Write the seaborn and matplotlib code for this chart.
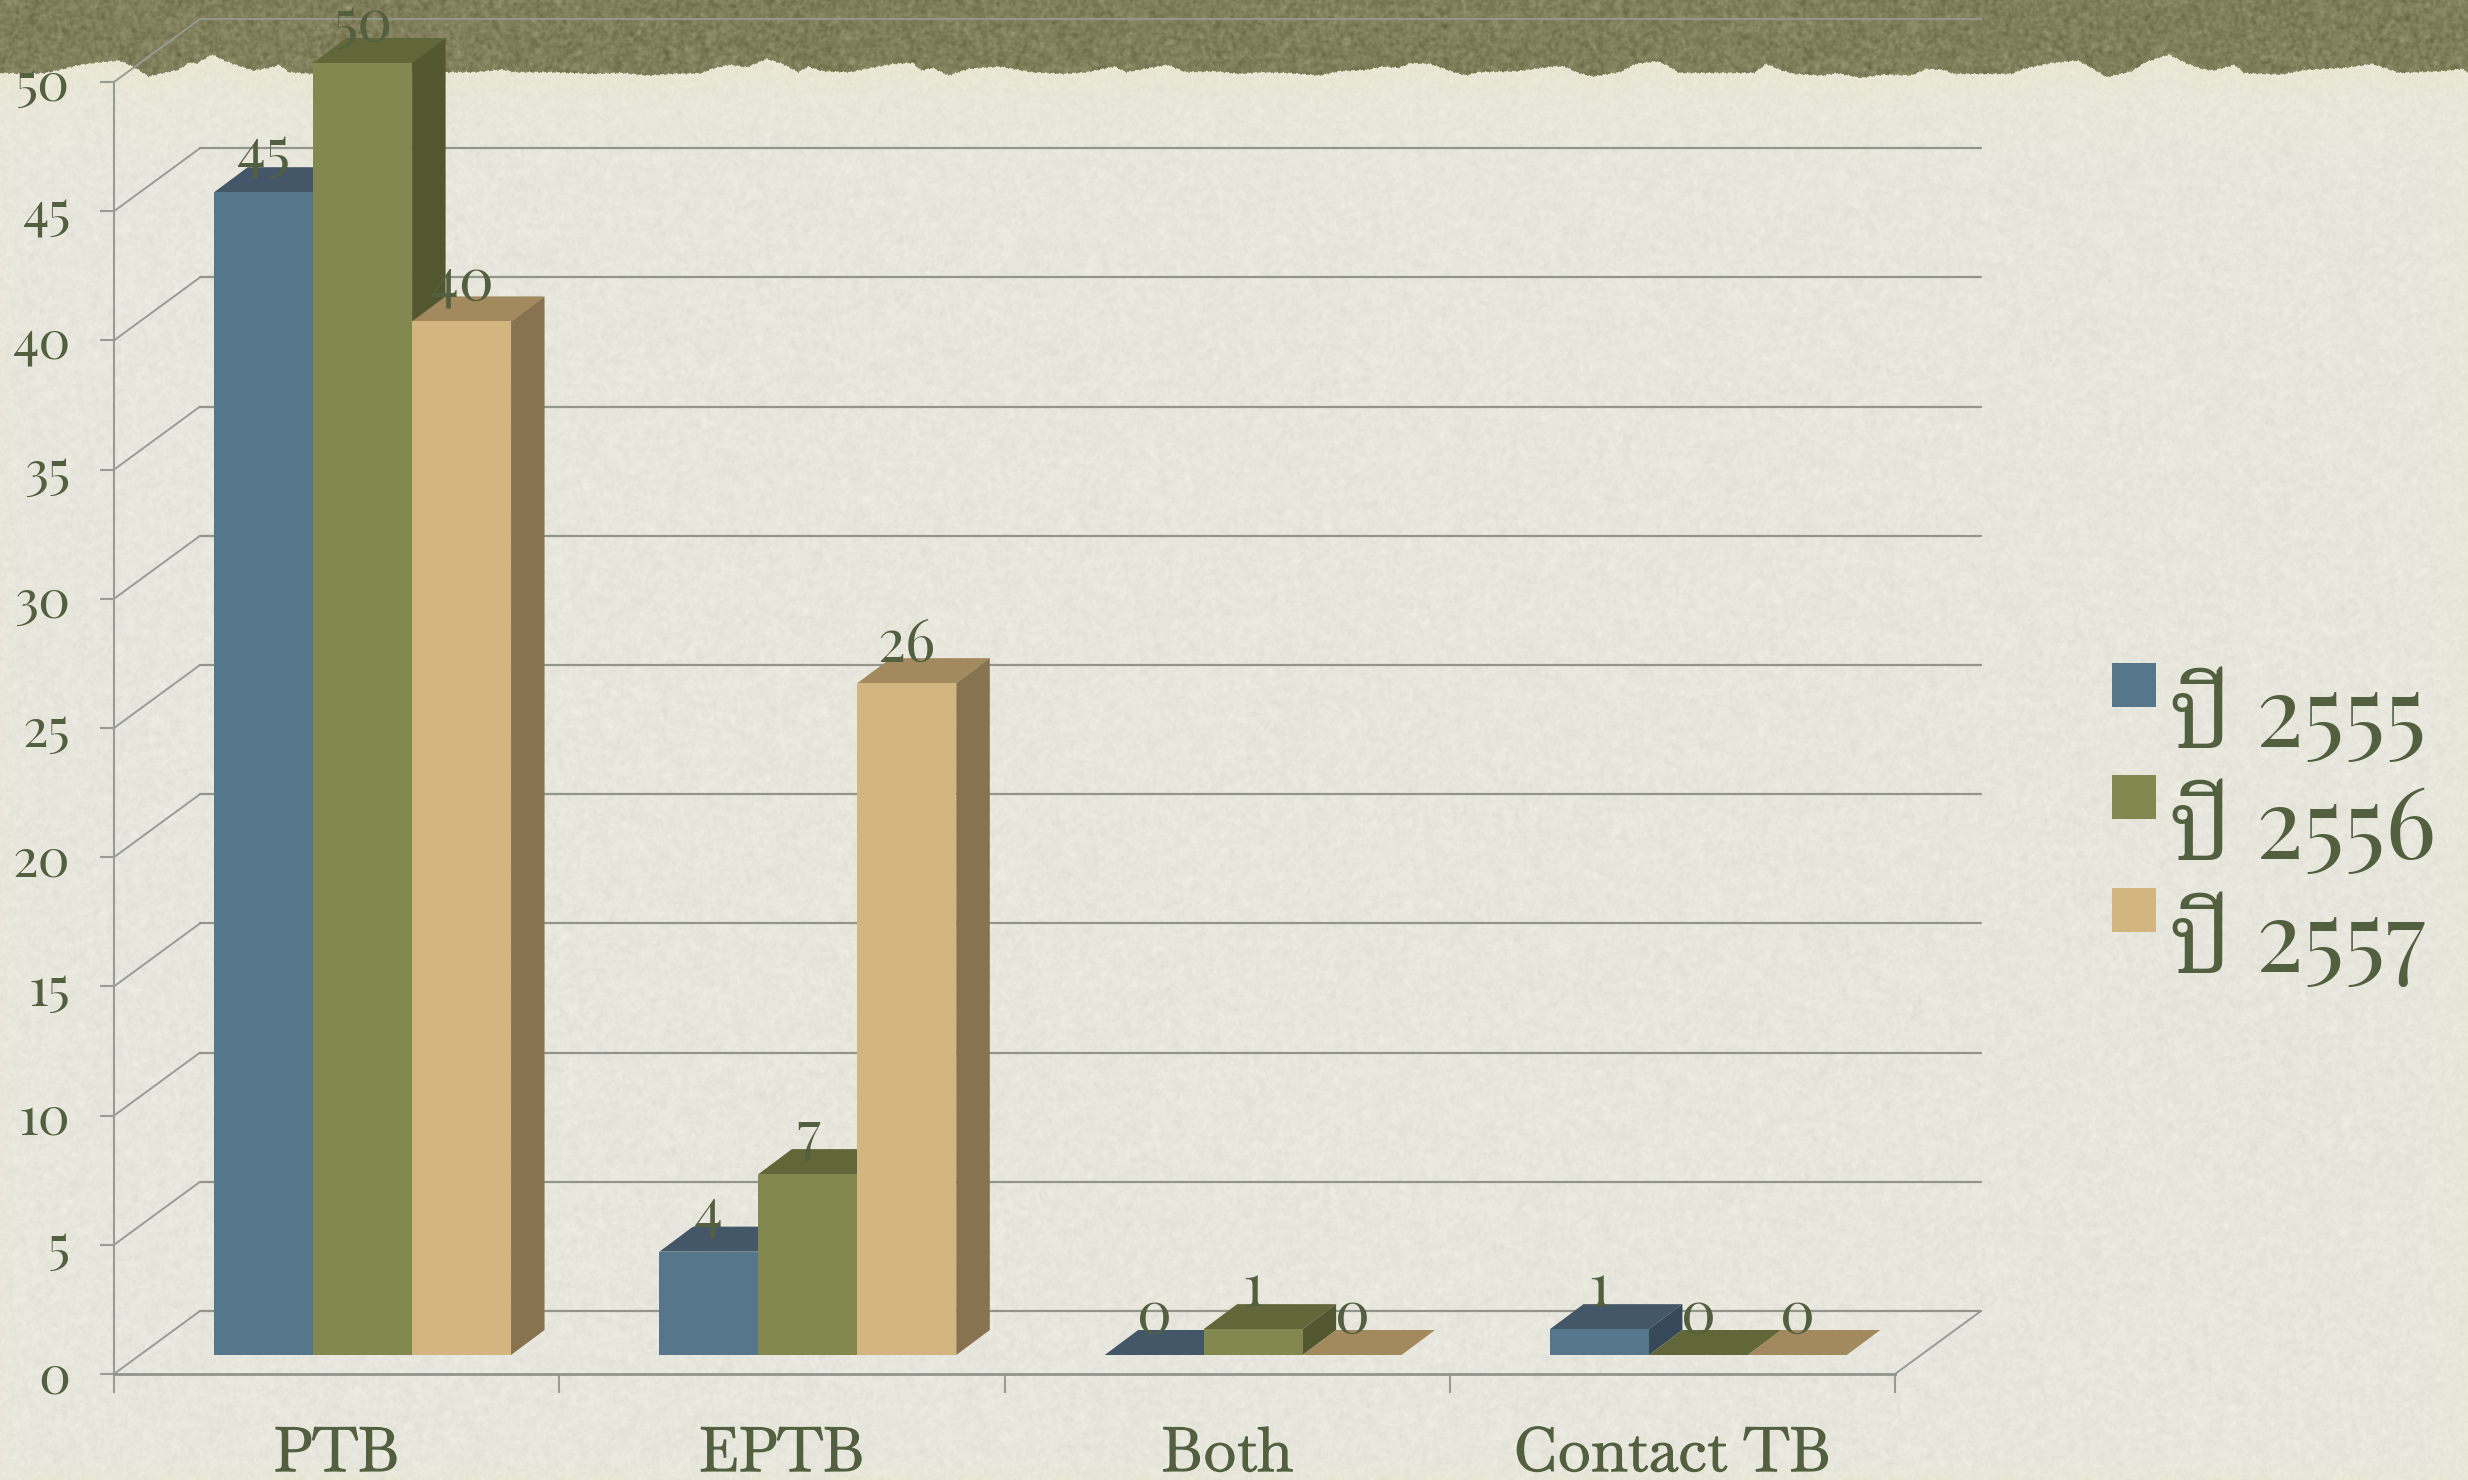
import numpy as np
import pandas as pd
import matplotlib
matplotlib.use("Agg")
import matplotlib.pyplot as plt
import matplotlib.patheffects as pe
from matplotlib.font_manager import FontProperties
from matplotlib.transforms import Affine2D
import seaborn as sns

# ---- data ----
categories = ["PTB", "EPTB", "Both", "Contact TB"]
years = ["ปี 2555", "ปี 2556", "ปี 2557"]
values_2555 = [45, 4, 0, 1]
values_2556 = [50, 7, 1, 0]
values_2557 = [40, 26, 0, 0]
y_ticks = [0, 5, 10, 15, 20, 25, 30, 35, 40, 45, 50]

# ---- styling ----
front_colors = ["#56768B", "#828850", "#D3B57F"]
top_colors = ["#435769", "#616739", "#A3895E"]
side_colors = ["#37485A", "#52572F", "#87734F"]
text_color = "#536040"
grid_color = "#91958A"
axis_color = "#999C93"
W, H = 2468, 1480

# torn paper edge, (x px, y px) read along the top of the slide
def _edge(x0, sx, pts):
    return [(x0 + a / sx, 30 + b / 3) for a, b in pts]
edge_pts = (
    _edge(0, 2.53, [(0,127),(60,130),(110,128),(150,118),(200,103),(240,97),(300,90),(320,100),(345,115),(375,138),
                    (410,128),(450,118),(480,95),(495,100),(535,72),(570,92),(600,105),(640,120),(680,112),(705,103),
                    (730,125),(790,130),(1125,125),(1200,125),(1270,117),(1300,125),(1400,125),(1500,130)])
    + _edge(620, 2.53, [(0,127),(70,135),(130,130),(205,128),(230,115),(275,103),(320,110),(370,85),(410,100),(450,125),
                        (475,108),(510,122),(580,125),(630,113),(690,100),(740,97),(760,120),(790,112),(830,135),(880,115),
                        (960,108),(1040,125),(1120,130),(1180,125),(1250,108),(1280,125),(1340,112),(1385,103),(1430,125),(1500,122)])
    + _edge(1240, 2.53, [(0,130),(50,125),(130,128),(200,135),(250,122),(320,118),(360,108),(400,112),(430,98),(480,100),
                         (540,125),(570,135),(600,125),(700,122),(790,108),(820,108),(850,125),(890,138),(960,125),(1000,100),
                         (1055,92),(1080,105),(1110,127),(1300,127),(1330,100),(1365,118),(1400,130),(1470,135),(1510,128)])
    + _edge(1860, 2.579, [(0,142),(60,132),(130,135),(170,115),(215,118),(240,130),(390,130),(420,115),(490,98),(560,90),
                          (600,115),(635,140),(700,122),(735,95),(795,72),(840,98),(880,115),(910,120),(965,103),(990,128),
                          (1085,132),(1150,118),(1250,112),(1320,100),(1390,127),(1500,122),(1550,115),(1568,125)])
)

sns.set_style("white")
letter_fonts = ["Baskervville", "Noto Serif Thai", "Liberation Serif", "DejaVu Serif"]
digit_fonts = ["Playfair Display", "Noto Serif Thai", "Liberation Serif", "DejaVu Serif"]
plt.rcParams["font.family"] = letter_fonts

def paper_noise(seed, passes):
    yy, xx = np.mgrid[0:H, 0:W].astype(float)
    v = np.sin(xx * 12.9898 + yy * 78.233 + seed) * 43758.5453
    v = v - np.floor(v) - 0.5
    for _ in range(passes):
        v = (v + np.roll(v, 1, 0) + np.roll(v, -1, 0) + np.roll(v, 1, 1) + np.roll(v, -1, 1)) / 5
    return v / v.std()

def background():
    yy, xx = np.mgrid[0:H, 0:W].astype(float)
    ex = np.array([p[0] for p in edge_pts]); ey = np.array([p[1] for p in edge_pts])
    edge = np.interp(np.arange(W), ex, ey)
    edge = edge + 0.5 * np.sin(np.arange(W) * 0.9) + 0.4 * np.sin(np.arange(W) * 2.3 + 1)
    edge2d = edge[None, :]
    fine, soft = paper_noise(1.0, 2), paper_noise(2.0, 12)
    paper = np.array([231.0, 231.0, 222.0])[None, None, :] + (1.4 * fine + 1.5 * soft)[..., None]
    warm = np.array([234.0, 231.0, 210.0])[None, None, :] + (1.4 * fine)[..., None]
    d_edge = np.minimum.reduce([(W - xx) / 45, xx / 12, (H - yy) / 20])
    t = np.clip(1 - d_edge, 0, 1) * 0.6
    t = np.maximum(t, np.exp(-np.clip(yy - edge2d, 0, None) / 40) * 0.95)[..., None]
    img = paper * (1 - t) + warm * t
    band = np.array([129.0, 126.0, 92.0])[None, None, :] + (2.5 * paper_noise(3.0, 1) + 6 * paper_noise(4.0, 5))[..., None]
    m = np.clip(yy - edge2d + 0.5, 0, 1)[..., None]
    return np.clip(img * m + band * (1 - m), 0, 255).astype(np.uint8)

def px_axes(fig, left, right, top, bottom, **kw):
    return fig.add_axes([left / W, 1 - bottom / H, (right - left) / W, (bottom - top) / H], **kw)

df = pd.DataFrame({
    "category": categories * 3,
    "year": np.repeat(years, len(categories)),
    "value": values_2555 + values_2556 + values_2557,
})

fig = plt.figure(figsize=(W / 100, H / 100), dpi=100)
ax_bg = fig.add_axes([0, 0, 1, 1])
ax_bg.imshow(background(), aspect="auto", interpolation="nearest")
ax_bg.set_axis_off()

# ---- front plane: the real axes, ticks and labels ----
ax = px_axes(fig, 114, 1895, 82, 1374)
ax.patch.set_visible(False)
ax.set_xlim(0, len(categories))
ax.set_ylim(0, 50)
px_x = (1895 - 114) / len(categories)
px_y = (1374 - 82) / 50
DX, DY = 86 / px_x, 63 / px_y

for s in ["top", "right"]:
    ax.spines[s].set_visible(False)
ax.spines["left"].set_color(axis_color); ax.spines["left"].set_linewidth(1.5)
ax.spines["bottom"].set_color(grid_color); ax.spines["bottom"].set_linewidth(2)

ax.set_yticks(y_ticks)
ax.set_yticklabels([str(v) for v in y_ticks])
ax.set_xticks(np.arange(len(categories) + 1))
ax.set_xticklabels([])
ax.set_xticks(np.arange(len(categories)) + 0.5, minor=True)
ax.set_xticklabels(categories, minor=True)
ax.tick_params(axis="y", length=10, width=1.5, color=axis_color, pad=21.5, labelsize=38.5, labelcolor=text_color, left=True)
ax.tick_params(axis="x", which="major", length=13.7, width=1.5, color=axis_color, bottom=True)
ax.tick_params(axis="x", which="minor", length=0, pad=69.8, labelsize=44, labelcolor=text_color, bottom=True)
thicker = [pe.withStroke(linewidth=0.9, foreground=text_color)]
for lab in ax.get_yticklabels():
    lab.set_va("baseline")
    lab.set_family(digit_fonts)
    lab.set_transform(lab.get_transform() + Affine2D().translate(0, -19))
for lab in ax.xaxis.get_minorticklabels():
    lab.set_va("baseline")
    lab.set_path_effects(thicker)

# back wall, side wall and floor lines
n = len(categories)
for v in y_ticks:
    ax.plot([0, DX], [v, v + DY], color=axis_color, lw=1.4, clip_on=False, zorder=1)
    ax.plot([DX, n + DX], [v + DY, v + DY], color=grid_color, lw=1.6, clip_on=False, zorder=1)
ax.plot([n, n + DX], [0, DY], color=axis_color, lw=1.4, clip_on=False, zorder=1)

# ---- bars: same scales, set back into the box ----
ax_bars = px_axes(fig, 140, 1921, 63, 1355)
sns.barplot(data=df, x="category", y="value", hue="year", hue_order=years, order=categories,
            palette=front_colors, saturation=1, width=2 / 3, gap=0, dodge=True,
            linewidth=0, ax=ax_bars)
ax_bars.set_xlim(-0.5, n - 0.5)
ax_bars.set_ylim(0, 50)
ax_bars.set_axis_off()
bar_dx, bar_dy = 33.5 / px_x, 25 / px_y

for i, cont in enumerate(ax_bars.containers):
    for bar in cont:
        x0, w, h = bar.get_x(), bar.get_width(), bar.get_height()
        bar.set_zorder(3 + i + 0.5)
        ax_bars.fill([x0, x0 + w, x0 + w + bar_dx, x0 + bar_dx], [h, h, h + bar_dy, h + bar_dy],
                     color=top_colors[i], lw=0, clip_on=False, zorder=3 + i)
        if h > 0:
            ax_bars.fill([x0 + w, x0 + w + bar_dx, x0 + w + bar_dx, x0 + w], [0, bar_dy, h + bar_dy, h],
                         color=side_colors[i], lw=0, clip_on=False, zorder=3 + i)
        ax_bars.annotate(f"{h:.0f}", xy=(x0 + w / 2, h), xytext=(0, 22), textcoords="offset pixels",
                         ha="center", va="baseline", fontsize=42, color=text_color, family=digit_fonts,
                         annotation_clip=False, zorder=20)

# ---- legend ----
handles, labels = ax_bars.get_legend_handles_labels()
leg = ax_bars.legend(handles, labels, loc="upper left", bbox_to_anchor=(2112 / W, 1 - 669 / H),
                     bbox_transform=fig.transFigure, frameon=False, borderpad=0, borderaxespad=0,
                     prop=FontProperties(family=digit_fonts, size=71),
                     handlelength=0.446, handleheight=0.31, handletextpad=0.13, labelspacing=0.175,
                     labelcolor=text_color)
for patch in leg.get_patches():
    patch.set_y(patch.get_y() + 19)

fig.savefig("out.png", dpi=100)
